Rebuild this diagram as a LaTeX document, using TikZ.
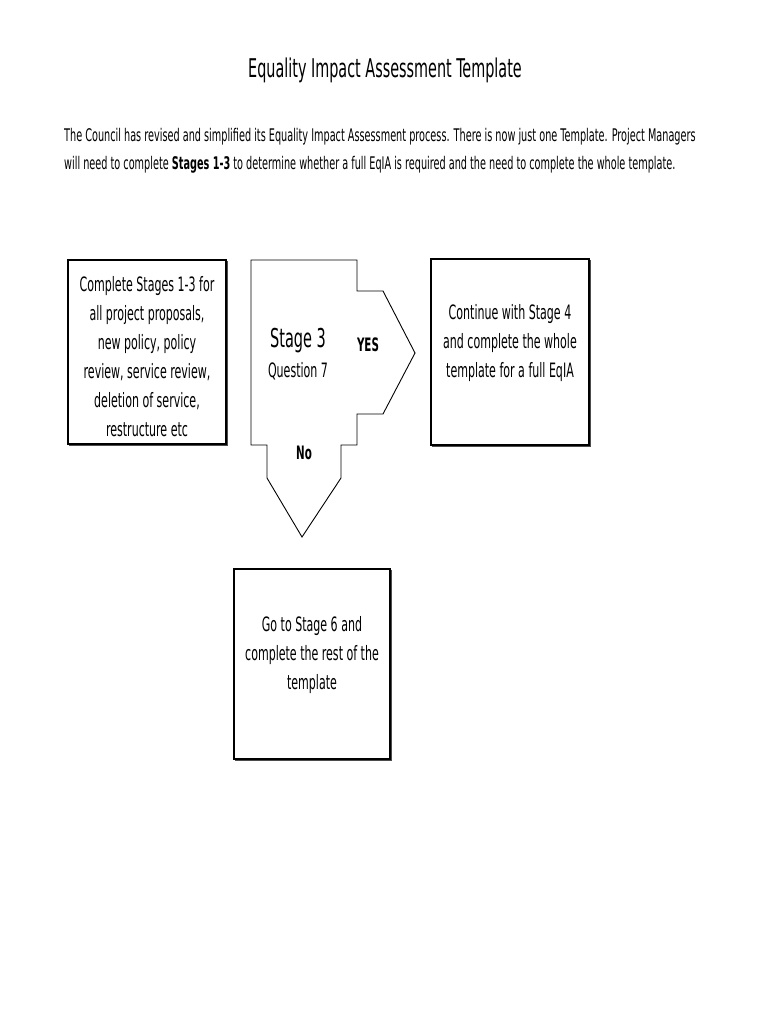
\documentclass[tikz,border=0pt]{standalone}
\usepackage{fontspec}
\setmainfont{DejaVu Sans Condensed}[FakeStretch=0.62]
\tikzset{
  box/.style={draw=black, line width=1.8pt},
  shadowline/.style={draw=black!70, line width=1pt},
  boxtext/.style={align=center, font=\fontsize{19.8}{29}\selectfont, inner sep=0pt},
  para/.style={anchor=west, inner sep=0pt, font=\fontsize{17.4}{28}\selectfont},
}
\begin{document}
\begin{tikzpicture}[x=1pt,y=-1pt]
\useasboundingbox (0,0) rectangle (770,1024);
\fill[white] (0,0) rectangle (770,1024);
% title
\node[inner sep=0pt, font=\fontsize{25.8}{30}\selectfont] (title) at (385,70) {Equality Impact Assessment Template};
\node[para] (p1) at (64,137) {The Council has revised and simplified its Equality Impact Assessment process. There is now just one Template. Project Managers};
\node[para] (p2) at (64,165) {will need to complete \textbf{Stages 1-3} to determine whether a full EqIA is required and the need to complete the whole template.};
% left box
\draw[box] (68,260) rectangle (226,444);
\draw[shadowline] (227.5,261) -- (227.5,445.5) -- (69,445.5);
\node[boxtext] (left) at (147,357) {Complete Stages 1-3 for\\all project proposals,\\new policy, policy\\review, service review,\\deletion of service,\\restructure etc};
% right box
\draw[box] (431,259) rectangle (589,445);
\draw[shadowline] (590.5,260) -- (590.5,446.5) -- (432,446.5);
\node[boxtext] (right) at (510,343) {Continue with Stage 4\\and complete the whole\\template for a full EqIA};
% bottom box
\draw[box] (234,569) rectangle (390,759);
\draw[shadowline] (391.5,570) -- (391.5,760.5) -- (235,760.5);
\node[boxtext] (bottom) at (312,655) {Go to Stage 6 and\\complete the rest of the\\template};
% stage 3 shape
\draw[line width=0.9pt, line join=miter] (251,260) -- (357,260) -- (357,291) -- (383,291) -- (415,353) -- (383,414) -- (357,414) -- (357,445) -- (341,445) -- (341,478) -- (302,537) -- (267,478) -- (267,445) -- (251,445) -- cycle;
\node[inner sep=0pt, font=\fontsize{26}{30}\selectfont] (stage) at (298,341) {Stage 3};
\node[inner sep=0pt, font=\fontsize{19.8}{24}\selectfont] (q7) at (298,371) {Question 7};
\node[inner sep=0pt, font=\fontsize{18.5}{22}\selectfont\bfseries] (yes) at (368,345) {YES};
\node[inner sep=0pt, font=\fontsize{18.5}{22}\selectfont\bfseries] (no) at (304,453) {No};
\end{tikzpicture}
\end{document}
